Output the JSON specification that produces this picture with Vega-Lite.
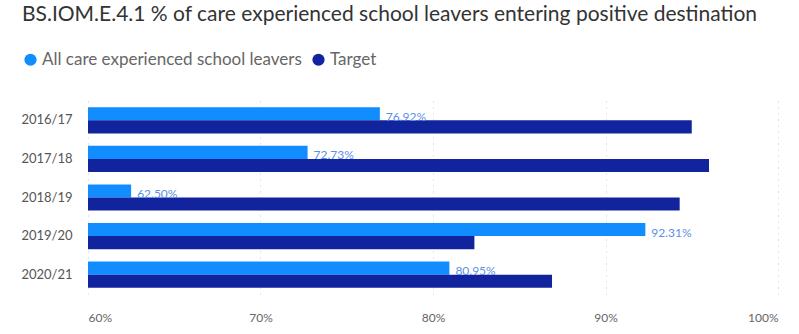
{
  "$schema": "https://vega.github.io/schema/vega-lite/v6.json",
  "width": 690,
  "height": 193,
  "autosize": {"type": "none"},
  "padding": {"left": 88, "top": 101, "right": 21, "bottom": 40},
  "background": "white",
  "config": {
    "view": {"stroke": null},
    "font": "Lato"
  },
  "title": {
    "text": "BS.IOM.E.4.1 % of care experienced school leavers entering positive destination",
    "anchor": "start",
    "frame": "group",
    "dx": -66,
    "offset": 5,
    "fontSize": 21,
    "fontWeight": "normal",
    "font": "Lato",
    "color": "#333333",
    "baseline": "bottom"
  },
  "data": {
    "values": [
      {"year": "2016/17", "series": "All care experienced school leavers", "value": 0.7692},
      {"year": "2016/17", "series": "Target", "value": 0.950},
      {"year": "2017/18", "series": "All care experienced school leavers", "value": 0.7273},
      {"year": "2017/18", "series": "Target", "value": 0.960},
      {"year": "2018/19", "series": "All care experienced school leavers", "value": 0.6250},
      {"year": "2018/19", "series": "Target", "value": 0.943},
      {"year": "2019/20", "series": "All care experienced school leavers", "value": 0.9231},
      {"year": "2019/20", "series": "Target", "value": 0.824},
      {"year": "2020/21", "series": "All care experienced school leavers", "value": 0.8095},
      {"year": "2020/21", "series": "Target", "value": 0.869}
    ]
  },
  "encoding": {
    "y": {
      "field": "year",
      "type": "nominal",
      "sort": ["2016/17", "2017/18", "2018/19", "2019/20", "2020/21"],
      "scale": {"paddingInner": 0.32, "paddingOuter": 0.16},
      "axis": {
        "title": null,
        "domain": false,
        "ticks": false,
        "labelPadding": 16,
        "labelFontSize": 13,
        "labelColor": "#555555",
        "labelFont": "Lato"
      }
    },
    "yOffset": {
      "field": "series",
      "type": "nominal",
      "sort": ["All care experienced school leavers", "Target"],
      "scale": {"paddingInner": 0, "paddingOuter": 0}
    },
    "x": {
      "field": "value",
      "type": "quantitative",
      "scale": {"domain": [0.6, 1.0], "zero": false, "nice": false},
      "axis": {
        "title": null,
        "format": ".0%",
        "values": [0.6, 0.7, 0.8, 0.9, 1.0],
        "domain": false,
        "ticks": false,
        "grid": true,
        "gridColor": "#C8C8C8",
        "gridDash": [1, 5],
        "labelPadding": 18,
        "labelFontSize": 12,
        "labelColor": "#666666",
        "labelFont": "Lato"
      }
    }
  },
  "layer": [
    {
      "mark": {"type": "bar", "clip": true},
      "encoding": {
        "color": {
          "field": "series",
          "type": "nominal",
          "sort": ["All care experienced school leavers", "Target"],
          "scale": {
            "domain": ["All care experienced school leavers", "Target"],
            "range": ["#118DFF", "#12239E"]
          },
          "legend": {
            "title": null,
            "orient": "none",
            "direction": "horizontal",
            "legendX": -66,
            "legendY": -50,
            "symbolType": "circle",
            "symbolSize": 150,
            "symbolStrokeWidth": 0,
            "symbolOpacity": 1,
            "labelFontSize": 17,
            "labelColor": "#666666",
            "labelFont": "Lato",
            "labelOffset": 3,
            "labelLimit": 400,
            "columnPadding": 8
          }
        }
      }
    },
    {
      "transform": [{"filter": "datum.series === 'All care experienced school leavers'"}],
      "mark": {
        "type": "text",
        "align": "left",
        "baseline": "middle",
        "dx": 6,
        "dy": 3,
        "fontSize": 12,
        "font": "Lato",
        "color": "#5C8FE6"
      },
      "encoding": {
        "text": {"field": "value", "type": "quantitative", "format": ".2%"}
      }
    }
  ]
}
